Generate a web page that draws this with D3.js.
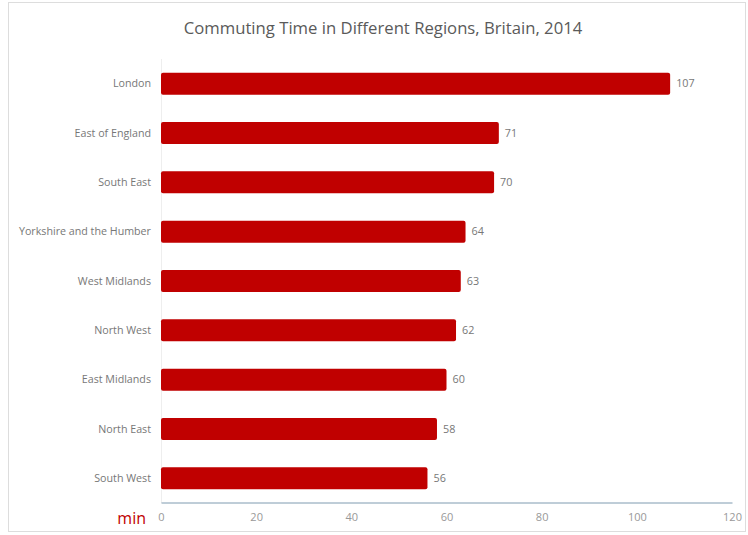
<!DOCTYPE html>
<html><head><meta charset="utf-8">
<script src="https://cdn.jsdelivr.net/npm/d3@7"></script>
<style>body{margin:0;background:#fff;}svg{display:block;font-family:"Open Sans",sans-serif;}</style>
</head><body><svg id="c" width="748" height="535"></svg>
<script>
const regions = ["London","East of England","South East","Yorkshire and the Humber","West Midlands","North West","East Midlands","North East","South West"];
const minutes = [107,71,70,64,63,62,60,58,56];
const xTicks = [0,20,40,60,80,100,120];
const title = "Commuting Time in Different Regions, Britain, 2014";
const unit = "min";

const svg = d3.select("#c");
svg.append("rect").attr("x",8.5).attr("y",2.5).attr("width",737).attr("height",529)
  .attr("fill","#fff").attr("stroke","#ddd");

const x = d3.scaleLinear().domain([0,120]).range([161,732]);
const y = d3.scaleBand().domain(regions).range([59,503]).padding(0);
const barH = 22;

svg.append("text").attr("x",383).attr("y",34).attr("text-anchor","middle")
  .attr("font-size",16.7).attr("fill","#5a5a5a").text(title);

svg.append("line").attr("x1",161.5).attr("x2",161.5).attr("y1",59).attr("y2",503).attr("stroke","#eee");

const g = svg.append("g");
g.selectAll("rect.bar").data(regions).join("rect").attr("class","bar")
  .attr("x",x(0)).attr("y",(d)=>y(d)+y.bandwidth()/2-barH/2)
  .attr("width",(d,i)=>x(minutes[i])-x(0)).attr("height",barH)
  .attr("rx",2).attr("fill","#c00000");

g.selectAll("text.val").data(regions).join("text").attr("class","val")
  .attr("x",(d,i)=>x(minutes[i])+6).attr("y",(d)=>y(d)+y.bandwidth()/2)
  .attr("dy","0.35em").attr("font-size",10.8).attr("fill","#777")
  .text((d,i)=>minutes[i]);

g.selectAll("text.cat").data(regions).join("text").attr("class","cat")
  .attr("x",151).attr("y",(d)=>y(d)+y.bandwidth()/2).attr("dy","0.35em")
  .attr("text-anchor","end").attr("font-size",10.7).attr("fill","#777").text(d=>d);

const xAxis = svg.append("g").attr("transform","translate(0,502.5)")
  .call(d3.axisBottom(x).tickValues(xTicks).tickSize(0).tickPadding(11));
xAxis.select(".domain").attr("stroke","#7f9bb0");
xAxis.selectAll("text").attr("font-size",11).attr("fill","#999").attr("font-family","Open Sans, sans-serif");

svg.append("text").attr("x",146).attr("y",524).attr("text-anchor","end")
  .attr("font-size",16).attr("fill","#c00000").text(unit);
</script></body></html>
